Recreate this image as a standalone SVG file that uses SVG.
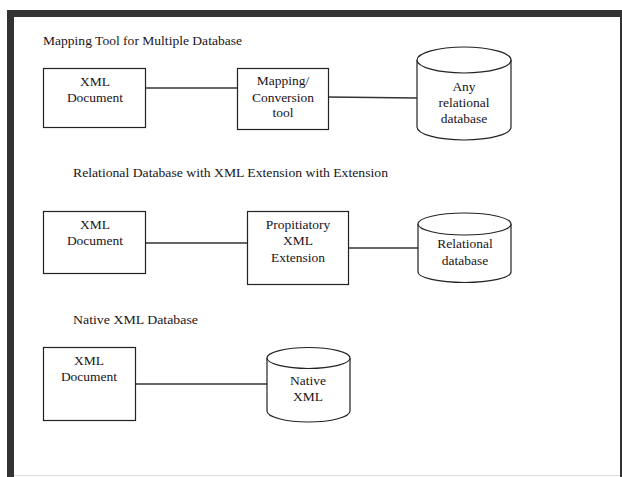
<svg xmlns="http://www.w3.org/2000/svg" width="622" height="477" viewBox="0 0 622 477">
<style>
text{font-family:'Liberation Serif','Times New Roman','DejaVu Serif',serif;font-size:13.5px;fill:#1a1420;}
.c{text-anchor:middle;}
.box{fill:#fff;stroke:#222;stroke-width:1.2;}
.cyl{fill:#fff;stroke:#222;stroke-width:1.2;}
.conn{stroke:#333;stroke-width:1.5;fill:none;}
</style>
<rect x="0" y="0" width="622" height="477" fill="#fff"/>
<rect x="7" y="10" width="615" height="467" fill="#333"/>
<rect x="14" y="17" width="606" height="460" fill="#fff"/>
<line x1="14" y1="475.5" x2="620" y2="475.5" stroke="#ddd" stroke-width="1"/>

<g font-family="Liberation Serif, serif">
<text x="43" y="45" textLength="199" lengthAdjust="spacingAndGlyphs">Mapping Tool for Multiple Database</text>
<text x="73" y="177" textLength="315" lengthAdjust="spacingAndGlyphs">Relational Database with XML Extension with Extension</text>
<text x="73" y="324" textLength="125" lengthAdjust="spacingAndGlyphs">Native XML Database</text>
</g>

<g id="connectors">
<line class="conn" x1="146" y1="88" x2="237" y2="88"/>
<line class="conn" x1="328" y1="97" x2="417" y2="98"/>
<line class="conn" x1="146" y1="243" x2="247" y2="243"/>
<line class="conn" x1="349" y1="248" x2="418" y2="248"/>
<line class="conn" x1="136" y1="384" x2="267" y2="384"/>
</g>

<g id="xml1" font-family="Liberation Serif, serif">
<rect class="box" x="43.5" y="68.5" width="102" height="59"/>
<text class="c" x="95" y="86">XML</text>
<text class="c" x="95" y="102">Document</text>
</g>
<g id="map" font-family="Liberation Serif, serif">
<rect class="box" x="237.5" y="68.5" width="91" height="61"/>
<text class="c" x="283" y="85">Mapping/</text>
<text class="c" x="283" y="102">Conversion</text>
<text class="c" x="283" y="117">tool</text>
</g>
<g id="anydb" font-family="Liberation Serif, serif">
<path class="cyl" d="M417,60 A47,13 0 0 1 511,60 V127 A47,13 0 0 1 417,127 Z"/>
<path class="cyl" d="M417,60 A47,13 0 0 0 511,60"/>
<text class="c" x="464" y="91">Any</text>
<text class="c" x="464" y="107">relational</text>
<text class="c" x="464" y="123">database</text>
</g>

<g id="xml2" font-family="Liberation Serif, serif">
<rect class="box" x="43.5" y="211.5" width="102" height="62"/>
<text class="c" x="95" y="229">XML</text>
<text class="c" x="95" y="245">Document</text>
</g>
<g id="ext" font-family="Liberation Serif, serif">
<rect class="box" x="247.5" y="211.5" width="101" height="73"/>
<text class="c" x="298" y="229">Propitiatory</text>
<text class="c" x="298" y="245">XML</text>
<text class="c" x="298" y="262">Extension</text>
</g>
<g id="reldb" font-family="Liberation Serif, serif">
<path class="cyl" d="M418,224 A46.5,11 0 0 1 511,224 V272 A46.5,10.5 0 0 1 418,272 Z"/>
<path class="cyl" d="M418,224 A46.5,11 0 0 0 511,224"/>
<text class="c" x="465" y="248">Relational</text>
<text class="c" x="465" y="265">database</text>
</g>

<g id="xml3" font-family="Liberation Serif, serif">
<rect class="box" x="43.5" y="347.5" width="92" height="73"/>
<text class="c" x="89" y="365">XML</text>
<text class="c" x="89" y="381">Document</text>
</g>
<g id="native" font-family="Liberation Serif, serif">
<path class="cyl" d="M267,358 A41.5,10.5 0 0 1 350,358 V411 A41.5,11 0 0 1 267,411 Z"/>
<path class="cyl" d="M267,358 A41.5,10.5 0 0 0 350,358"/>
<text class="c" x="308" y="385">Native</text>
<text class="c" x="308" y="401">XML</text>
</g>
</svg>
